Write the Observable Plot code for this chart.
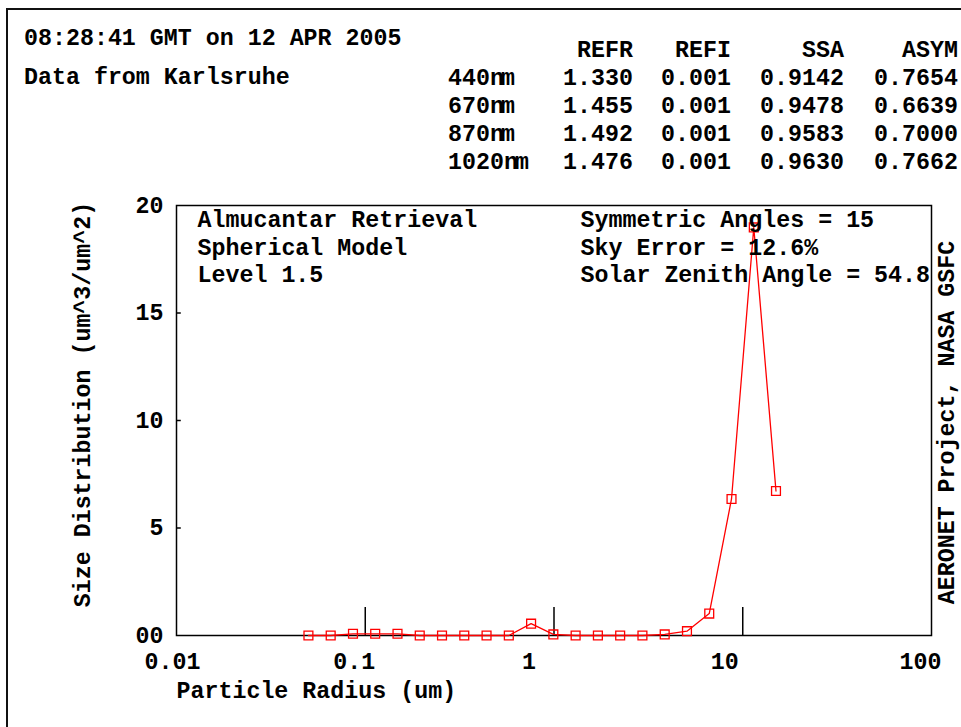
<!DOCTYPE html>
<html>
<head>
<meta charset="utf-8">
<script src="https://cdn.jsdelivr.net/npm/d3@7"></script>
<script src="https://cdn.jsdelivr.net/npm/@observablehq/plot@0.6"></script>
<style>
  body { margin: 0; background: #fff; }
  #page { position: relative; width: 961px; height: 727px; overflow: hidden; background: #fff;
          font-family: "Liberation Mono", monospace; font-weight: bold; font-size: 23.3px; color: #000; }
  #border { position: absolute; left: 6px; top: 8px; width: 1200px; height: 1000px;
            border-left: 2px solid #111; border-top: 2px solid #111; }
  #chart { position: absolute; left: 0; top: 0; }
  .hdr { position: absolute; white-space: pre; line-height: 28px; }
  .col { position: absolute; white-space: pre; line-height: 28px; }
  .nm { letter-spacing: -3px; }
</style>
</head>
<body>
<div id="page">
  <div id="border"></div>
  <div id="chart"></div>
  <div class="hdr" id="title" style="left:24px; top:25px;"></div>
  <div class="hdr" id="site" style="left:24px; top:64px;"></div>
  <div class="col" id="colWl" style="left:448px; top:37px; text-align:left;"></div>
  <div class="col" id="colRefr" style="right:328px; top:37px; text-align:right;"></div>
  <div class="col" id="colRefi" style="right:230px; top:37px; text-align:right;"></div>
  <div class="col" id="colSsa" style="right:117px; top:37px; text-align:right;"></div>
  <div class="col" id="colAsym" style="right:3px; top:37px; text-align:right;"></div>
</div>
<script>
// ---- header data ----
const titleText = "08:28:41 GMT on 12 APR 2005";
const siteText = "Data from Karlsruhe";
const tableHeaders = ["REFR", "REFI", "SSA", "ASYM"];
const wavelengths = ["440", "670", "870", "1020"];
const refr = [1.330, 1.455, 1.492, 1.476];
const refi = [0.001, 0.001, 0.001, 0.001];
const ssa = [0.9142, 0.9478, 0.9583, 0.9630];
const asym = [0.7654, 0.6639, 0.7000, 0.7662];

// ---- plot data ----
const radius = [0.05, 0.0656, 0.0861, 0.1129, 0.1482, 0.1944, 0.2551, 0.3347, 0.4392, 0.5763, 0.7562,
                0.9922, 1.3019, 1.7083, 2.2415, 2.9412, 3.8594, 5.0642, 6.6450, 8.7193, 11.4410, 15.0000];
const sizeDist = [0, 0, 0.08, 0.08, 0.08, 0, 0, 0, 0, 0, 0.55,
                  0.05, 0, 0, 0, 0, 0.05, 0.2, 1.02, 6.35, 18.98, 6.72];

const xTicks = [0.01, 0.1, 1, 10, 100];
const xTickLabels = ["0.01", "0.1", "1", "10", "100"];
const xInnerTicks = [0.1, 1, 10];
const yTicks = [0, 5, 10, 15, 20];
const yTickLabels = ["00", "5", "10", "15", "20"];
const yInnerTicks = [5, 10, 15];

const leftNotes = ["Almucantar Retrieval", "Spherical Model", "Level 1.5"];
const rightNotes = ["Symmetric Angles = 15", "Sky Error = 12.6%", "Solar Zenith Angle = 54.8"];
const xLabel = "Particle Radius (um)";
const yLabel = "Size Distribution (um^3/um^2)";
const sideLabel = "AERONET Project, NASA GSFC";

// ---- header ----
document.getElementById("title").textContent = titleText;
document.getElementById("site").textContent = siteText;
document.getElementById("colWl").innerHTML = "\n" + wavelengths.map(w => `${w}<span class="nm">nm</span>`).join("\n");
document.getElementById("colRefr").textContent = [tableHeaders[0], ...refr.map(v => v.toFixed(3))].join("\n");
document.getElementById("colRefi").textContent = [tableHeaders[1], ...refi.map(v => v.toFixed(3))].join("\n");
document.getElementById("colSsa").textContent = [tableHeaders[2], ...ssa.map(v => v.toFixed(4))].join("\n");
document.getElementById("colAsym").textContent = [tableHeaders[3], ...asym.map(v => v.toFixed(4))].join("\n");

// ---- chart ----
const data = radius.map((r, i) => ({r, v: sizeDist[i]}));

const chart = Plot.plot({
  width: 961,
  height: 727,
  marginLeft: 176,
  marginRight: 30,
  marginTop: 205,
  marginBottom: 92,
  style: {
    fontFamily: "'Liberation Mono', monospace",
    fontSize: "23.3px",
    fontWeight: "bold",
    background: "transparent",
    color: "#000",
    overflow: "visible"
  },
  x: {type: "log", domain: [0.01, 100]},
  y: {domain: [0, 20]},
  marks: [
    Plot.frame({stroke: "#000", strokeWidth: 1.5}),
    Plot.axisX({ticks: xTicks, tickFormat: d => xTickLabels[xTicks.indexOf(d)], tickSize: 0, tickPadding: 17,
                textAnchor: "start", dx: -32, label: null}),
    Plot.axisY({ticks: yTicks, tickFormat: d => yTickLabels[yTicks.indexOf(d)], tickSize: 0, tickPadding: 13, label: null}),
    Plot.ruleX(xInnerTicks, {y1: 0, y2: 1.3, stroke: "#000", strokeWidth: 1.5}),
    Plot.ruleY(yInnerTicks, {x1: 0.01, x2: 0.0106, stroke: "#000", strokeWidth: 1.5}),
    Plot.line(data, {x: "r", y: "v", stroke: "#ff0000", strokeWidth: 1.3}),
    Plot.dot(data, {x: "r", y: "v", symbol: "square", r: 5, stroke: "#ff0000", fill: "none", strokeWidth: 1.3}),
    Plot.text([leftNotes.join("\n")], {frameAnchor: "top-left", dx: 21, dy: 2, textAnchor: "start",
                                        lineAnchor: "top", lineHeight: 1.18}),
    Plot.text([rightNotes.join("\n")], {frameAnchor: "top-left", dx: 404, dy: 2, textAnchor: "start",
                                         lineAnchor: "top", lineHeight: 1.18}),
    Plot.text([xLabel], {frameAnchor: "bottom-left", dx: 0, dy: 46, textAnchor: "start", lineAnchor: "top"}),
    Plot.text([yLabel], {frameAnchor: "left", dx: -94, dy: -16, rotate: -90, textAnchor: "middle", lineAnchor: "middle"}),
    Plot.text([sideLabel], {frameAnchor: "right", dx: 15, dy: 2, rotate: -90, textAnchor: "middle", lineAnchor: "middle"})
  ]
});
document.getElementById("chart").appendChild(chart);
</script>
</body>
</html>
